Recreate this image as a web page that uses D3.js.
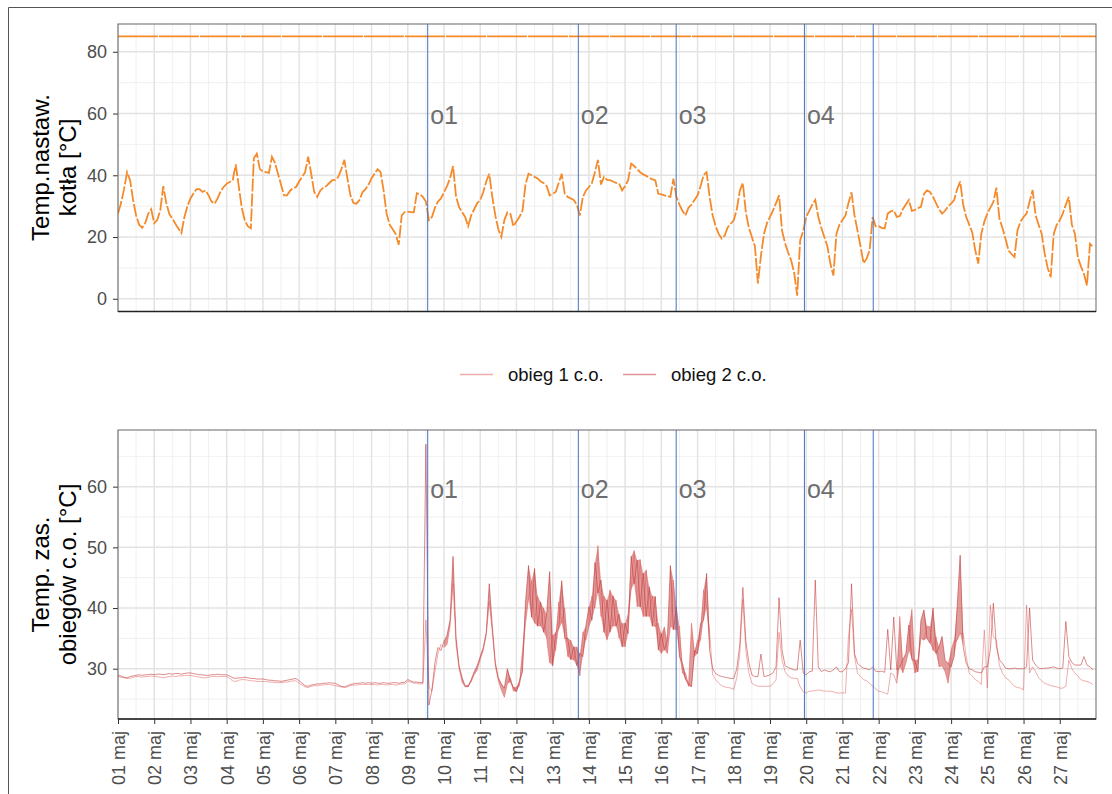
<!DOCTYPE html>
<html>
<head>
<meta charset="utf-8">
<script src="https://cdn.jsdelivr.net/npm/d3@7"></script>
<style>
  body { margin: 0; background: #fff; }
  svg { display: block; font-family: "Liberation Sans", Arial, sans-serif; }
</style>
</head>
<body>
<svg id="chart" width="1112" height="794"></svg>
<script>
// readings every 2 hours from 01 maj 00:00, one row per day (12 values)
const kociol = [
  27.6, 31.0, 35.5, 41.0, 38.4, 32.0, 27.0, 24.0, 23.0, 24.5, 27.5, 29.0,
  24.5, 25.5, 28.6, 36.5, 31.0, 27.5, 26.0, 24.3, 22.8, 21.3, 26.5, 30.0,
  32.5, 34.1, 35.5, 35.5, 34.6, 35.1, 33.5, 31.5, 30.8, 32.5, 34.8, 36.2,
  37.3, 37.8, 38.4, 43.5, 36.5, 29.5, 25.4, 23.5, 22.8, 45.5, 47.0, 42.0,
  41.2, 41.0, 40.8, 46.0, 44.0, 40.5, 37.0, 33.5, 33.5, 35.0, 35.8, 36.2,
  38.0, 39.5, 41.0, 46.0, 40.5, 34.6, 33.0, 35.0, 36.0, 36.5, 37.5, 38.4,
  38.5, 39.5, 42.0, 45.0, 39.0, 33.5, 31.0, 30.8, 32.0, 34.5, 35.5, 37.0,
  39.0, 40.5, 42.0, 41.0, 35.0, 27.5, 24.0, 22.5, 21.0, 17.5, 27.0, 28.1,
  28.2, 28.1, 28.0, 34.2, 33.8, 33.0, 31.5, 25.5, 26.5, 29.5, 31.5, 32.5,
  34.5, 36.5, 39.0, 43.0, 33.0, 29.7, 28.0, 26.5, 23.5, 27.0, 29.0, 31.0,
  32.0, 34.5, 38.0, 40.5, 33.0, 27.0, 22.5, 20.0, 25.5, 28.0, 27.5, 23.5,
  25.0, 26.5, 28.5, 37.0, 40.5, 40.0, 39.5, 39.0, 38.0, 37.5, 36.5, 33.5,
  34.0, 34.6, 37.5, 40.5, 34.0, 33.0, 32.5, 32.0, 30.5, 27.0, 33.0, 35.0,
  36.2, 37.5, 41.0, 45.0, 37.0, 39.5, 38.5, 38.4, 38.0, 37.5, 37.3, 35.1,
  36.5, 38.4, 43.8, 43.0, 42.0, 41.0, 40.3, 39.8, 39.2, 38.7, 38.4, 34.0,
  33.8, 33.5, 33.2, 33.0, 38.9, 33.0, 30.5, 28.5, 27.0, 29.5, 30.5, 32.0,
  33.5, 36.5, 40.0, 41.0, 33.0, 27.0, 23.5, 21.0, 19.5, 20.5, 23.2, 24.3,
  25.4, 29.0, 35.0, 37.5, 28.0, 23.0, 20.0, 17.0,  5.0, 14.0, 21.0, 24.5,
  26.5, 28.6, 31.0, 33.5, 22.0, 18.0, 15.0, 12.5,  8.5,  1.0, 19.0, 22.0,
  26.5, 28.5, 30.5, 32.0, 26.5, 23.0, 20.0, 17.0, 11.4,  7.5, 21.0, 24.0,
  25.5, 27.0, 31.0, 34.5, 27.0, 22.0, 17.0, 11.5, 13.0, 15.7, 26.5, 23.5,
  23.5, 23.0, 22.8, 27.6, 28.3, 28.6, 26.5, 26.8, 29.0, 30.5, 32.0, 28.5,
  28.8, 29.3, 29.8, 34.0, 35.1, 34.6, 33.0, 31.0, 29.0, 27.6, 28.5, 30.0,
  30.8, 32.0, 35.5, 38.0, 30.5, 26.5, 24.0, 21.5, 15.7, 11.4, 21.0, 25.0,
  27.6, 29.5, 31.4, 36.0, 26.0, 23.0, 19.5, 15.7, 14.5, 13.5, 22.2, 25.0,
  26.5, 27.6, 31.5, 35.2, 27.0, 24.0, 21.1, 14.6, 10.0,  7.0, 21.1, 24.0,
  25.4, 27.6, 30.5, 33.0, 24.0, 21.1, 13.5, 10.5,  8.1,  4.3, 17.8, 16.8
];

// boiler maximum, flat for the whole month
const kociolMaxTimes = ["2021-05-01T00:00Z", "2021-05-28T00:00Z"];
const kociolMax = [85, 85];

const obieg1 = [
  28.7, 28.6, 28.5, 28.4, 28.4, 28.6, 28.7, 28.7, 28.6, 28.7, 28.7, 28.8,
  28.7, 28.7, 28.6, 28.5, 28.6, 28.7, 28.8, 28.7, 28.8, 28.8, 28.9, 28.9,
  28.9, 28.8, 28.7, 28.6, 28.5, 28.5, 28.6, 28.7, 28.7, 28.7, 28.7, 28.7,
  28.7, 28.4, 28.0, 27.9, 28.1, 28.2, 28.2, 28.1, 28.0, 28.0, 27.9, 27.9,
  27.9, 27.9, 27.8, 27.8, 27.7, 27.7, 27.7, 27.8, 27.8, 27.9, 28.0, 28.0,
  27.6, 27.3, 27.0, 26.9, 27.1, 27.2, 27.2, 27.3, 27.3, 27.4, 27.4, 27.3,
  27.2, 27.1, 27.0, 26.9, 27.0, 27.2, 27.3, 27.3, 27.4, 27.4, 27.4, 27.4,
  27.4, 27.4, 27.3, 27.4, 27.4, 27.3, 27.4, 27.4, 27.3, 27.4, 27.5, 27.5,
  27.9, 27.8, 27.6, 27.6, 27.5, 27.5, 38.0, 27.0, 26.3, 29.5, 32.5, 34.0,
  33.5, 34.0, 37.0, 44.0, 34.0, 30.0, 27.8, 27.0, 27.3, 27.8, 29.0, 29.8,
  31.5, 33.0, 35.5, 41.0, 36.0, 30.5, 28.0, 26.5, 25.3, 27.5, 28.5, 26.3,
  27.0, 27.2, 33.0, 37.5, 41.5, 44.5, 37.5, 42.0, 37.0, 40.0, 35.0, 31.0,
  35.5, 33.0, 41.0, 37.5, 40.0, 32.0, 34.7, 31.4, 33.6, 28.8, 36.0, 34.7,
  36.9, 42.0, 40.0, 50.3, 38.6, 42.0, 34.7, 43.0, 37.0, 41.3, 35.0, 37.5,
  33.6, 39.1, 43.0, 49.5, 40.2, 48.0, 38.6, 46.3, 38.6, 42.0, 36.9, 37.5,
  32.5, 36.9, 32.5, 37.0, 44.6, 36.4, 37.0, 29.3, 29.3, 27.1, 37.5, 32.0,
  34.7, 34.7, 43.0, 40.0, 36.0, 29.0, 28.2, 27.6, 27.2, 27.0, 26.9, 26.8,
  26.6, 28.5, 32.5, 41.4, 33.0, 29.3, 27.6, 27.3, 27.1, 27.1, 27.1, 27.1,
  27.1, 27.5, 28.2, 36.0, 31.4, 29.5, 28.8, 28.5, 28.4, 28.4, 27.0, 26.2,
  26.0, 26.3, 26.3, 26.4, 26.5, 26.4, 26.3, 26.3, 26.3, 26.2, 26.0, 26.0,
  26.0, 26.0, 35.3, 39.8, 32.0, 29.3, 28.7, 28.2, 28.0, 27.6, 27.1, 26.7,
  26.3, 26.2, 26.0, 25.8, 29.3, 29.0, 27.6, 38.6, 29.3, 30.9, 33.0, 39.8,
  29.3, 31.5, 35.0, 34.7, 37.0, 36.9, 33.0, 35.3, 30.3, 30.5, 29.5, 27.6,
  33.1, 34.7, 34.7, 35.8, 35.8, 32.0, 29.3, 28.8, 28.2, 27.9, 27.4, 36.4,
  26.8, 40.5, 35.3, 34.7, 30.5, 29.3, 28.5, 28.2, 27.6, 27.1, 26.9, 26.8,
  26.5, 40.5, 29.3, 30.3, 29.5, 28.5, 28.0, 27.6, 27.4, 27.2, 27.1, 27.0,
  26.8, 26.8, 27.1, 31.4, 30.0, 29.3, 28.8, 28.2, 28.0, 27.9, 27.7, 27.4
];

const obieg2 = [
  28.9, 28.8, 28.6, 28.5, 28.7, 28.8, 28.9, 29.0, 28.9, 29.0, 29.0, 29.1,
  29.0, 29.1, 29.1, 29.0, 29.1, 29.2, 29.1, 29.2, 29.2, 29.1, 29.2, 29.3,
  29.3, 29.2, 29.1, 29.0, 29.0, 28.9, 28.9, 29.0, 29.0, 29.1, 29.0, 29.0,
  29.0, 28.8, 28.5, 28.4, 28.5, 28.5, 28.6, 28.5, 28.4, 28.4, 28.3, 28.3,
  28.3, 28.2, 28.1, 28.1, 28.0, 28.0, 27.9, 28.0, 28.1, 28.2, 28.3, 28.4,
  28.0, 27.6, 27.2, 27.1, 27.3, 27.4, 27.5, 27.5, 27.6, 27.6, 27.7, 27.6,
  27.6, 27.3, 27.1, 27.0, 27.2, 27.4, 27.5, 27.6, 27.6, 27.7, 27.6, 27.7,
  27.6, 27.7, 27.6, 27.6, 27.7, 27.6, 27.6, 27.7, 27.7, 27.6, 27.7, 27.8,
  28.2, 28.0, 27.8, 27.8, 27.7, 27.7, 67.0, 24.0, 26.5, 31.0, 33.5, 33.0,
  34.5, 35.5, 38.0, 48.5, 35.0, 30.5, 28.5, 27.2, 27.0, 28.2, 29.5, 30.5,
  32.0, 33.5, 36.0, 44.0, 37.0, 31.0, 28.5, 27.5, 26.8, 30.0, 27.8, 27.0,
  26.2, 28.0, 29.5, 41.0, 47.0, 38.5, 46.5, 37.0, 41.0, 36.0, 39.0, 46.0,
  30.5, 36.0, 36.5, 44.5, 35.0, 35.0, 31.5, 33.6, 30.5, 32.5, 32.0, 37.0,
  40.2, 38.0, 47.5, 42.5, 44.6, 36.0, 41.3, 36.0, 42.0, 37.0, 39.0, 33.6,
  37.5, 35.8, 48.5, 44.0, 47.9, 40.2, 45.7, 38.6, 43.5, 37.0, 41.9, 33.1,
  35.8, 33.1, 34.7, 47.0, 36.4, 40.2, 32.0, 30.9, 28.2, 27.6, 27.0, 33.0,
  32.5, 37.5, 38.0, 45.7, 33.0, 30.0, 29.2, 28.9, 28.7, 28.6, 28.5, 28.4,
  28.4, 30.0, 34.0, 43.4, 34.5, 31.0, 29.0, 28.7, 28.7, 32.4, 28.7, 28.8,
  29.0, 29.3, 30.3, 41.7, 33.0, 30.5, 30.2, 30.0, 29.8, 29.8, 34.7, 29.3,
  29.0, 29.5, 29.6, 44.6, 30.3, 29.5, 29.8, 29.6, 29.5, 29.8, 30.3, 29.5,
  29.5, 30.0, 31.0, 44.0, 32.5, 30.9, 30.4, 30.1, 30.0, 29.8, 30.3, 29.6,
  29.5, 29.6, 29.4, 36.5, 29.8, 38.5, 29.8, 30.3, 31.5, 32.5, 37.2, 31.5,
  31.4, 29.5, 38.0, 39.7, 35.0, 34.2, 40.0, 32.5, 33.6, 35.3, 31.4, 30.9,
  30.3, 32.0, 40.2, 48.7, 33.6, 30.9, 30.0, 29.8, 29.5, 29.4, 29.3, 30.3,
  30.3, 33.1, 40.8, 33.6, 31.5, 30.9, 30.1, 30.0, 30.0, 30.1, 30.0, 30.0,
  30.0, 30.3, 40.0, 31.4, 30.6, 30.1, 30.0, 30.1, 30.1, 30.2, 30.3, 30.1,
  30.0, 30.1, 37.8, 32.0, 31.0, 30.6, 30.6, 30.6, 32.0, 30.6, 30.3, 29.8
];

// periods where both circuits fluctuate densely (filled between the two circuits)
const pasmaGeste = [["2021-05-10T00:00Z", "2021-05-17T08:00Z"],
                    ["2021-05-22T12:00Z", "2021-05-24T08:00Z"]];

const eventTimes = ["2021-05-09T13:12Z", "2021-05-13T17:00Z", "2021-05-16T09:50Z",
                    "2021-05-19T22:48Z", "2021-05-21T20:24Z"];
const eventLabels = ["o1", "o2", "o3", "o4", ""];

const dayLabels = ["01 maj", "02 maj", "03 maj", "04 maj", "05 maj", "06 maj", "07 maj",
  "08 maj", "09 maj", "10 maj", "11 maj", "12 maj", "13 maj", "14 maj", "15 maj", "16 maj",
  "17 maj", "18 maj", "19 maj", "20 maj", "21 maj", "22 maj", "23 maj", "24 maj", "25 maj",
  "26 maj", "27 maj"];

const topTicks = [0, 20, 40, 60, 80];
const topMinor = [10, 30, 50, 70];
const bottomTicks = [30, 40, 50, 60];
const bottomMinor = [25, 35, 45, 55, 65];

const seriesNames = ["obieg 1 c.o.", "obieg 2 c.o."];

// ------------------------------------------------------------
const start = new Date("2021-05-01T00:00Z");
const end = new Date("2021-05-28T00:00Z");
const stepMs = 2 * 3600 * 1000;
const timeAt = i => new Date(+start + i * stepMs);

const svg = d3.select("#chart");
const left = 118, right = 1096;

const x = d3.scaleUtc().domain([start, end]).range([left, right]);
const dayTicks = d3.utcDay.range(start, end).slice(0, dayLabels.length);
const halfDays = dayTicks.map(d => d3.utcHour.offset(d, 12));

const yTop = d3.scaleLinear().domain([-4.12, 89.0]).range([311.5, 24]);
const yBot = d3.scaleLinear().domain([21.71, 69.34]).range([719, 430]);

const orange = "#f58a2a";
const blue = "#4472c4";
const col1 = "#e05a5a", col2 = "#c43a3a";

// outer frame
svg.append("path")
  .attr("d", "M8.5,794V7.5H1112")
  .attr("fill", "none")
  .attr("stroke", "#555")
  .attr("stroke-width", 1);

function drawPanel(y, ticks, minor, id) {
  const [bottom, top] = y.range();
  const g = svg.append("g");

  g.append("clipPath").attr("id", id)
    .append("rect").attr("x", left).attr("y", top)
    .attr("width", right - left).attr("height", bottom - top);

  // minor grid
  g.selectAll(".vmin").data(halfDays).enter().append("line")
    .attr("x1", d => x(d)).attr("x2", d => x(d))
    .attr("y1", top).attr("y2", bottom)
    .attr("stroke", "#ececec").attr("stroke-width", 0.8);
  g.selectAll(".hmin").data(minor).enter().append("line")
    .attr("x1", left).attr("x2", right)
    .attr("y1", d => y(d)).attr("y2", d => y(d))
    .attr("stroke", "#ececec").attr("stroke-width", 0.8);
  // major grid
  g.selectAll(".vmaj").data(dayTicks).enter().append("line")
    .attr("x1", d => x(d)).attr("x2", d => x(d))
    .attr("y1", top).attr("y2", bottom)
    .attr("stroke", "#e3e3e3").attr("stroke-width", 1.5);
  g.selectAll(".hmaj").data(ticks).enter().append("line")
    .attr("x1", left).attr("x2", right)
    .attr("y1", d => y(d)).attr("y2", d => y(d))
    .attr("stroke", "#e3e3e3").attr("stroke-width", 1.5);

  // y axis
  const ax = g.append("g")
    .attr("transform", `translate(${left},0)`)
    .call(d3.axisLeft(y).tickValues(ticks).tickSize(5).tickPadding(6));
  ax.select(".domain").remove();
  ax.selectAll("line").attr("stroke", "#333");
  ax.selectAll("text")
    .attr("fill", "#4d4d4d")
    .style("font-size", "18px")
    .style("font-family", "Liberation Sans, Arial, sans-serif");

  return g;
}

const gTop = drawPanel(yTop, topTicks, topMinor, "clipTop");
const gBot = drawPanel(yBot, bottomTicks, bottomMinor, "clipBot");

// ---- top panel data
const lineTop = d3.line()
  .defined(d => d.v != null)
  .x(d => x(d.t)).y(d => yTop(d.v));

gTop.append("path")
  .datum(kociolMax.map((v, i) => ({ t: new Date(kociolMaxTimes[i]), v })))
  .attr("clip-path", "url(#clipTop)")
  .attr("d", lineTop)
  .attr("fill", "none")
  .attr("stroke", orange)
  .attr("stroke-width", 1.8)
  .attr("stroke-dasharray", "40,1");

gTop.append("path")
  .datum(kociol.map((v, i) => ({ t: timeAt(i), v })))
  .attr("clip-path", "url(#clipTop)")
  .attr("d", lineTop)
  .attr("fill", "none")
  .attr("stroke", orange)
  .attr("stroke-width", 1.8)
  .attr("stroke-dasharray", "13,2");

// ---- bottom panel data
const both = obieg1.map((v, i) => ({ t: timeAt(i), a: v, b: obieg2[i] }));

const band = d3.area()
  .x(d => x(d.t))
  .y0(d => yBot(Math.min(d.a, d.b)))
  .y1(d => yBot(Math.max(d.a, d.b)));

pasmaGeste.forEach(([s, e]) => {
  const s0 = new Date(s), e0 = new Date(e);
  gBot.append("path")
    .datum(both.filter(d => d.t >= s0 && d.t <= e0))
    .attr("clip-path", "url(#clipBot)")
    .attr("d", band)
    .attr("fill", col2)
    .attr("fill-opacity", 0.5);
});

const lineBot = d3.line().x(d => x(d.t)).y(d => yBot(d.v));

[[obieg1, col1, 0.55], [obieg2, col2, 0.65]].forEach(([arr, c, op]) => {
  gBot.append("path")
    .datum(arr.map((v, i) => ({ t: timeAt(i), v })))
    .attr("clip-path", "url(#clipBot)")
    .attr("d", lineBot)
    .attr("fill", "none")
    .attr("stroke", c)
    .attr("stroke-opacity", op)
    .attr("stroke-width", 0.9);
});

// ---- event markers
[[gTop, yTop, 10.5], [gBot, yBot, 11.5]].forEach(([g, y, off]) => {
  const [bottom, top] = y.range();
  g.selectAll(".ev").data(eventTimes).enter().append("line")
    .attr("x1", d => x(new Date(d))).attr("x2", d => x(new Date(d)))
    .attr("y1", top).attr("y2", bottom)
    .attr("stroke", blue).attr("stroke-width", 1);
  g.selectAll(".evl").data(eventTimes).enter().append("text")
    .attr("x", d => x(new Date(d)) + 2.5)
    .attr("y", y(60) + off)
    .attr("fill", "#6e6e6e")
    .style("font-size", "25px")
    .text((d, i) => eventLabels[i]);
});

// ---- panel borders
[yTop, yBot].forEach(y => {
  const [bottom, top] = y.range();
  svg.append("rect")
    .attr("x", left).attr("y", top)
    .attr("width", right - left).attr("height", bottom - top)
    .attr("fill", "none").attr("stroke", "#666").attr("stroke-width", 1);
  svg.append("line")
    .attr("x1", left).attr("x2", right).attr("y1", bottom).attr("y2", bottom)
    .attr("stroke", "#222").attr("stroke-width", 1.5);
});

// ---- bottom x axis
const xAx = svg.append("g")
  .attr("transform", "translate(0,719)")
  .call(d3.axisBottom(x).tickValues(dayTicks).tickSize(5).tickFormat((d, i) => dayLabels[i]));
xAx.select(".domain").remove();
xAx.selectAll("line").attr("stroke", "#333");
xAx.selectAll("text")
  .attr("transform", "rotate(-90)")
  .attr("text-anchor", "end")
  .attr("x", -12).attr("y", 0).attr("dy", "0.36em")
  .attr("fill", "#4d4d4d")
  .style("font-size", "18px")
  .style("font-family", "Liberation Sans, Arial, sans-serif");

// ---- axis titles
function yTitle(lines, cy) {
  const xs = [49, 76];
  lines.forEach((txt, i) => {
    svg.append("text")
      .attr("transform", `translate(${xs[i]},${cy}) rotate(-90)`)
      .attr("text-anchor", "middle")
      .attr("fill", "#000")
      .style("font-size", "24px")
      .text(txt);
  });
}
yTitle(["Temp.nastaw.", "kotła [°C]"], 167.5);
yTitle(["Temp. zas.", "obiegów c.o. [°C]"], 574.5);

// ---- legend
const legend = svg.append("g");
const legendX = [460, 623];
seriesNames.forEach((name, i) => {
  legend.append("line")
    .attr("x1", legendX[i]).attr("x2", legendX[i] + 33)
    .attr("y1", 374.5).attr("y2", 374.5)
    .attr("stroke", i === 0 ? col1 : col2)
    .attr("stroke-opacity", i === 0 ? 0.5 : 0.55)
    .attr("stroke-width", 1.6);
  legend.append("text")
    .attr("x", legendX[i] + 48).attr("y", 380.5)
    .attr("fill", "#111")
    .style("font-size", "18.5px")
    .text(name);
});
</script>
</body>
</html>
